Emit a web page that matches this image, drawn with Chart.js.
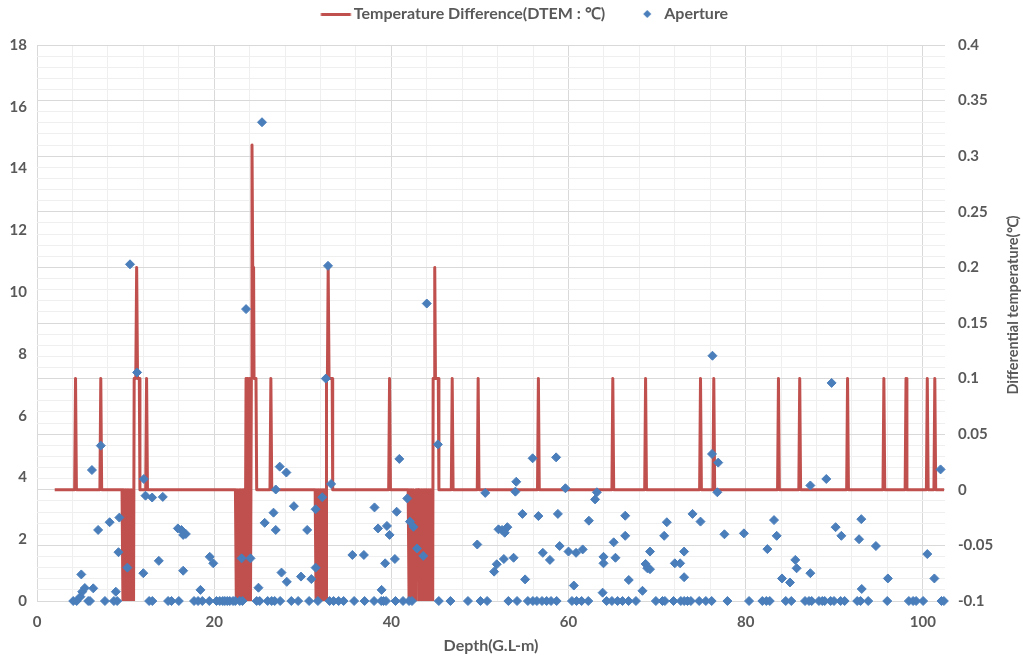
<!DOCTYPE html>
<html>
<head>
<meta charset="utf-8">
<script src="https://cdn.jsdelivr.net/npm/chart.js@4.4.1/dist/chart.umd.min.js"></script>
<style>
  body { margin: 0; background: #fff; }
  #wrap { width: 1023px; height: 657px; }
</style>
</head>
<body>
<div id="wrap"><canvas id="chart" width="1023" height="657"></canvas></div>
<script>
// Temperature difference log (right axis, deg C) - step line with narrow spikes
const tempDepth = [
  2.0, 4.25, 4.35, 4.45, 7.1, 7.2, 7.3,
  9.6, 9.7, 9.8, 9.9, 10.0, 10.1, 10.2, 10.3, 10.4, 10.5, 10.6, 10.7, 10.8, 10.9,
  10.97, 11.15, 11.25, 11.35, 11.55, 11.62,
  12.27, 12.37, 12.47,
  22.4, 22.5, 22.6, 22.7, 22.8, 22.9, 23.0, 23.1, 23.2, 23.27, 23.3, 23.45,
  23.5, 23.6, 23.7, 23.8, 23.9, 24.0, 24.1, 24.2,
  24.27, 24.35, 24.45, 24.5, 24.72, 24.8,
  26.3, 26.4, 26.5,
  31.4, 31.5, 31.6, 31.7, 31.8, 31.9, 32.0, 32.1, 32.2, 32.3, 32.4, 32.5, 32.6, 32.65,
  32.68, 32.78, 32.87, 32.97, 33.32, 33.38,
  39.7, 39.8, 39.9,
  41.9, 42.0, 42.1, 42.2, 42.3, 42.4, 42.5, 42.6, 42.7, 42.75,
  43.05, 43.1, 43.2, 43.3, 43.4, 43.5, 43.6, 43.7, 43.8, 43.9, 44.0, 44.1, 44.2, 44.3, 44.4, 44.5, 44.6, 44.67,
  44.72, 44.82, 44.9, 44.98, 45.3, 45.37,
  46.77, 46.87, 46.97, 49.7, 49.8, 49.9, 56.5, 56.6, 56.7, 64.9, 65.0, 65.1,
  68.6, 68.7, 68.8, 74.8, 74.9, 75.0, 76.3, 76.4, 76.5, 83.6, 83.7, 83.8,
  86.0, 86.1, 86.2, 91.4, 91.5, 91.6, 95.5, 95.6, 95.7, 98.0, 98.1, 98.2,
  100.4, 100.5, 100.6, 101.25, 101.35, 101.45, 102.4
];
const tempDiff = [
  0, 0, 0.1, 0, 0, 0.1, 0,
  0, -0.1, 0, -0.1, 0, -0.1, 0, -0.1, 0, -0.1, 0, -0.1, 0, -0.1,
  0.1, 0.1, 0.2, 0.1, 0.1, 0,
  0, 0.1, 0,
  0, -0.1, 0, -0.1, 0, -0.1, 0, -0.1, 0, -0.1, 0, 0,
  -0.1, 0.1, -0.1, 0.1, -0.1, 0.1, -0.1, 0.1,
  0.31, 0.2, 0.2, 0.1, 0.1, 0,
  0, 0.1, 0,
  0, -0.1, 0, -0.1, 0, -0.1, 0, -0.1, 0, -0.1, 0, -0.1, 0, -0.1,
  0.1, 0.1, 0.2, 0.1, 0.1, 0,
  0, 0.1, 0,
  0, -0.1, 0, -0.1, 0, -0.1, 0, -0.1, -0.1, 0,
  0, -0.1, 0, -0.1, 0, -0.1, 0, -0.1, 0, -0.1, 0, -0.1, 0, -0.1, 0, -0.1, 0, -0.1,
  0.1, 0.1, 0.2, 0.1, 0.1, 0,
  0, 0.1, 0, 0, 0.1, 0, 0, 0.1, 0, 0, 0.1, 0,
  0, 0.1, 0, 0, 0.1, 0, 0, 0.1, 0, 0, 0.1, 0,
  0, 0.1, 0, 0, 0.1, 0, 0, 0.1, 0, 0, 0.1, 0,
  0, 0.1, 0, 0, 0.1, 0, 0
];

// Fracture aperture (left axis) by depth
const apertureDepth = [
  4.09, 4.48, 4.9, 5.0, 5.1, 5.4, 5.78, 5.98, 6.2, 6.35,
  6.9, 7.2, 7.67, 8.2, 8.68, 8.9, 9.05, 9.2, 9.3, 10.2,
  10.5, 11.3, 12.0, 12.06, 12.25, 12.66, 13.0, 13.02, 13.75, 14.2,
  14.8, 15.19, 15.9, 16.01, 16.3, 16.5, 16.5, 16.8, 17.73, 18.18,
  18.45, 18.66, 19.45, 19.5, 19.9, 20.26, 20.63, 20.97, 21.2, 21.48,
  21.76, 22.13, 22.38, 22.89, 23.1, 23.19, 23.6, 24.1, 24.8, 25.0,
  25.14, 25.4, 25.7, 26.04, 26.49, 26.7, 26.83, 26.95, 26.95, 27.4,
  27.45, 27.6, 28.15, 28.2, 28.71, 29.0, 29.48, 29.8, 30.5, 30.72,
  30.97, 31.45, 31.45, 31.71, 32.2, 32.6, 32.85, 33.03, 33.2, 33.48,
  34.05, 34.61, 35.6, 35.8, 36.9, 36.98, 38.05, 38.1, 38.5, 38.86,
  38.9, 39.12, 39.3, 39.4, 39.5, 39.8, 40.4, 40.47, 40.6, 40.9,
  41.32, 41.8, 42.0, 42.1, 42.33, 42.5, 42.9, 43.6, 44.0, 45.25,
  45.36, 46.67, 48.65, 49.7, 50.06, 50.6, 50.81, 51.6, 51.9, 52.1,
  52.5, 52.7, 52.8, 53.1, 53.21, 53.8, 54.0, 54.1, 54.19, 54.8,
  55.1, 55.41, 55.95, 55.98, 56.43, 56.6, 57.01, 57.1, 57.53, 57.9,
  58.03, 58.6, 58.66, 58.8, 59.0, 59.65, 60.0, 60.39, 60.6, 60.85,
  60.91, 61.48, 61.6, 62.23, 62.3, 63.0, 63.2, 63.85, 63.95, 63.95,
  64.3, 64.9, 65.1, 65.3, 65.54, 66.1, 66.4, 66.4, 66.78, 66.8,
  67.61, 68.35, 68.7, 68.9, 69.2, 69.2, 69.86, 70.61, 70.8, 70.88,
  71.1, 71.85, 72.0, 72.6, 72.68, 73.05, 73.05, 73.06, 73.43, 73.81,
  74.0, 74.75, 74.9, 75.5, 76.16, 76.2, 76.25, 76.8, 76.9, 77.6,
  77.94, 79.8, 80.38, 81.88, 82.33, 82.45, 82.72, 83.2, 83.5, 84.1,
  84.52, 85.0, 85.15, 85.6, 85.75, 86.7, 87.15, 87.3, 87.3, 87.45,
  88.27, 88.65, 88.92, 89.1, 89.59, 89.7, 89.97, 90.15, 90.72, 90.8,
  91.17, 92.59, 92.8, 92.97, 93.05, 93.1, 93.83, 94.7, 95.98, 96.05,
  98.42, 98.9, 99.24, 100.03, 100.5, 101.3, 102.0, 102.1, 102.37
];
const apertureValue = [
  0, 0, 0.14, 0.86, 0.3, 0.42, 0, 0, 4.24, 0.41,
  2.3, 5.03, 0, 2.55, 0, 0.3, 0, 1.58, 2.7, 1.08,
  10.9, 7.4, 0.9, 3.95, 3.41, 0, 3.35, 0, 1.3, 3.37,
  0, 0, 2.35, 0, 2.3, 2.14, 0.98, 2.17, 0, 0,
  0.36, 0, 0, 1.43, 1.22, 0, 0, 0, 0, 0,
  0, 0, 0, 0, 1.38, 0, 9.45, 1.38, 0, 0.43,
  0, 15.5, 2.53, 0, 0, 2.86, 0, 3.61, 2.3, 4.35,
  0, 0.92, 4.16, 0.62, 0, 3.07, 0, 0.79, 2.3, 0,
  0.71, 1.08, 2.97, 0, 3.36, 7.2, 10.85, 0, 3.79, 0,
  0, 0, 1.49, 0, 1.49, 0, 0, 3.03, 2.35, 0,
  0.36, 0, 1.22, 0, 2.43, 2.14, 1.36, 0, 2.89, 4.6,
  0, 3.32, 0, 2.57, 0, 2.4, 1.7, 1.46, 9.63, 5.07,
  0, 0, 0, 1.83, 0, 3.5, 0, 0.95, 1.19, 2.32,
  2.3, 1.36, 2.21, 2.39, 0, 1.4, 3.54, 3.86, 0, 2.82,
  0.7, 0, 4.62, 0, 0, 2.75, 0, 1.56, 0, 1.33,
  0, 4.65, 0, 2.82, 1.78, 3.65, 1.6, 0, 0.5, 1.56,
  0, 0, 1.67, 0, 2.6, 3.29, 3.52, 0.27, 1.43, 1.22,
  0, 0, 1.9, 1.4, 0, 0, 2.76, 2.11, 0, 0.68,
  0, 0.33, 1.2, 1.06, 1.03, 1.6, 0, 0, 2.11, 0,
  2.55, 0, 1.22, 1.22, 0, 1.6, 0.77, 0, 0, 0,
  2.82, 0, 2.57, 0, 0, 4.76, 7.94, 3.52, 4.48, 2.16,
  0, 2.19, 0, 0, 0, 1.68, 0, 2.62, 2.11, 0.73,
  0, 0.6, 0, 1.33, 1.06, 0, 0, 3.74, 0.9, 0,
  0, 0, 0, 3.95, 0, 7.06, 0, 2.39, 0, 2.11,
  0, 0, 2.0, 0, 2.65, 0.39, 0, 1.78, 0, 0.73,
  0, 0, 0, 0, 1.52, 0.73, 4.26, 0, 0
];

// axis ticks
const depthTicks = [0, 4, 8, 12, 16, 20, 24, 28, 32, 36, 40, 44, 48, 52, 56, 60, 64, 68, 72, 76, 80, 84, 88, 92, 96, 100];

const red = '#c0504d';
const blue = '#4a7ebb';
const textGray = '#595959';
const majorGrid = '#d9d9d9';
const minorGrid = '#efefef';
const fontFamily = 'Lato, "Liberation Sans", sans-serif';

// small canvases used as legend symbols
function lineIcon() {
  const c = document.createElement('canvas');
  c.width = 64; c.height = 3;
  const g = c.getContext('2d');
  g.fillStyle = red;
  g.fillRect(32.5, 0, 30, 3);
  return c;
}
function diamondIcon() {
  const c = document.createElement('canvas');
  c.width = 64; c.height = 10;
  const g = c.getContext('2d');
  g.fillStyle = blue;
  const cx = 48.5;
  g.beginPath();
  g.moveTo(cx, 1); g.lineTo(cx + 4, 5); g.lineTo(cx, 9); g.lineTo(cx - 4, 5);
  g.closePath();
  g.fill();
  return c;
}

// Legend box gets a fixed height so the plot starts where the original does
const legendHeightPlugin = {
  id: 'legendHeight',
  beforeLayout(chart) {
    const legend = chart.legend;
    if (legend && !legend._fixedHeight) {
      const fit = legend.fit;
      legend.fit = function () { fit.call(this); this.height = 39; };
      legend._fixedHeight = true;
    }
  }
};

// right axis title reads bottom-to-top in the original
const rightTitlePlugin = {
  id: 'rightTitle',
  afterDraw(chart) {
    const ctx = chart.ctx;
    ctx.save();
    ctx.translate(1013, 305);
    ctx.rotate(-Math.PI / 2);
    ctx.font = 'bold 14.5px ' + fontFamily;
    ctx.fillStyle = textGray;
    ctx.textAlign = 'center';
    ctx.textBaseline = 'middle';
    ctx.fillText('Differential temperature(\u2103)', 0, 0);
    ctx.restore();
  }
};

const ctx = document.getElementById('chart').getContext('2d');
const chart = new Chart(ctx, {
  type: 'scatter',
  data: {
    datasets: [
      {
        label: 'Temperature Difference(DTEM : \u2103)',
        data: tempDepth.map((d, i) => ({ x: d, y: tempDiff[i] })),
        showLine: true,
        borderColor: red,
        backgroundColor: red,
        borderWidth: 3,
        pointRadius: 0,
        tension: 0,
        borderJoinStyle: 'round',
        yAxisID: 'y2',
        order: 2
      },
      {
        label: 'Aperture',
        data: apertureDepth.map((d, i) => ({ x: d, y: apertureValue[i] })),
        pointStyle: 'rectRot',
        pointRadius: 4.5,
        pointBackgroundColor: blue,
        pointBorderColor: blue,
        pointBorderWidth: 1,
        yAxisID: 'y',
        clip: false,
        order: 1
      }
    ]
  },
  options: {
    responsive: false,
    animation: false,
    layout: { padding: { top: 6, left: 0, right: 0, bottom: 0 } },
    plugins: {
      tooltip: { enabled: false },
      legend: {
        position: 'top',
        labels: {
          usePointStyle: true,
          pointStyleWidth: 51,
          padding: 0,
          color: textGray,
          font: { family: fontFamily, size: 16, weight: 'bold' },
          generateLabels: () => [
            { text: 'Temperature Difference(DTEM : \u2103)', pointStyle: lineIcon(), fillStyle: red, strokeStyle: red, lineWidth: 0, hidden: false, datasetIndex: 0, fontColor: textGray },
            { text: 'Aperture', pointStyle: diamondIcon(), fillStyle: blue, strokeStyle: blue, lineWidth: 0, hidden: false, datasetIndex: 1, fontColor: textGray }
          ]
        }
      }
    },
    scales: {
      x: {
        type: 'linear',
        min: 0,
        max: 102.5,
        afterBuildTicks: axis => { axis.ticks = depthTicks.map(v => ({ value: v })); },
        afterFit: axis => { axis.height = 56; },
        ticks: {
          autoSkip: false,
          maxRotation: 0,
          padding: 12,
          color: textGray,
          font: { family: fontFamily, size: 15, weight: 'bold' },
          callback: v => (v % 20 === 0 ? v : '')
        },
        grid: {
          drawTicks: false,
          color: c => (c.tick && c.tick.value % 20 === 0 ? majorGrid : minorGrid)
        },
        border: { display: false },
        title: {
          display: true,
          text: 'Depth(G.L-m)',
          color: textGray,
          font: { family: fontFamily, size: 16, weight: 'bold' },
          padding: { top: 0, bottom: 2 }
        }
      },
      y: {
        position: 'left',
        min: 0,
        max: 18,
        afterFit: axis => { axis.width = 37; },
        ticks: {
          stepSize: 2,
          padding: 10,
          color: textGray,
          font: { family: fontFamily, size: 15, weight: 'bold' }
        },
        grid: { display: false, drawTicks: false },
        border: { display: false }
      },
      y2: {
        position: 'right',
        min: -0.1,
        max: 0.4,
        afterFit: axis => { axis.width = 78; },
        afterBuildTicks: axis => {
          const ticks = [];
          for (let k = -10; k <= 40; k++) ticks.push({ value: k / 100 });
          axis.ticks = ticks;
        },
        ticks: {
          autoSkip: false,
          padding: 13,
          color: textGray,
          font: { family: fontFamily, size: 15, weight: 'bold' },
          callback: v => (Math.round(v * 100) % 5 === 0 ? String(Math.round(v * 100) / 100) : '')
        },
        grid: {
          drawTicks: false,
          color: c => (c.tick && Math.round(c.tick.value * 100) % 5 === 0 ? majorGrid : minorGrid)
        },
        border: { display: false }
      }
    }
  },
  plugins: [legendHeightPlugin, rightTitlePlugin]
});
</script>
</body>
</html>
